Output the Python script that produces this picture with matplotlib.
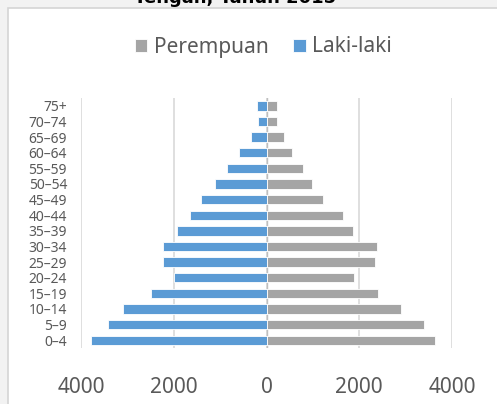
import matplotlib.pyplot as plt
from matplotlib.patches import Rectangle
import numpy as np

# age groups, bottom to top
ages = ['0–4', '5–9', '10–14', '15–19', '20–24', '25–29', '30–34', '35–39',
        '40–44', '45–49', '50–54', '55–59', '60–64', '65–69', '70–74', '75+']
laki_laki = [3790, 3410, 3090, 2480, 1990, 2240, 2240, 1920,
             1650, 1420, 1110, 860, 600, 340, 180, 195]
perempuan = [3640, 3390, 2890, 2410, 1890, 2340, 2380, 1870,
             1650, 1210, 980, 780, 540, 370, 220, 220]
x_ticks = [-4000, -2000, 0, 2000, 4000]
x_tick_labels = ['4000', '2000', '0', '2000', '4000']

plt.rcParams['font.family'] = ['Noto Sans', 'DejaVu Sans']

blue = '#5B9BD5'
grey = '#A5A5A5'
text_col = '#595959'

fig = plt.figure(figsize=(4.97, 4.04), dpi=100)
fig.patch.set_facecolor('#f2f2f2')

# chart frame (right and bottom edges run off the picture)
frame = Rectangle((8 / 497, -0.05), 1.1, 1 - 8 / 404 + 0.05,
                  transform=fig.transFigure, facecolor='white',
                  edgecolor='#d4d4d4', linewidth=1.2, zorder=-10)
fig.patches.append(frame)

# title, mostly cut off at the top
fig.text(0.473, 1 - 3 / 404, 'Tengah, Tahun 2015', ha='center', va='baseline',
         fontsize=13, fontweight='bold', family='DejaVu Sans', color='black')

ax = fig.add_axes([81 / 497, 56 / 404, 371 / 497, 250 / 404])
ax.set_facecolor('none')
ax.set_zorder(2)

y = np.arange(len(ages))
b_l = ax.barh(y, -np.array(laki_laki), height=0.6, color=blue,
              edgecolor='white', linewidth=0.6, zorder=3)
b_p = ax.barh(y, perempuan, height=0.6, color=grey,
              edgecolor='white', linewidth=0.6, zorder=3)

ax.set_xlim(-4000, 4000)
ax.set_ylim(-0.5, 15.5)
ax.set_xticks(x_ticks)
ax.set_xticklabels(x_tick_labels)
ax.set_yticks(y)
ax.set_yticklabels(ages)
ax.grid(axis='x', color='#d9d9d9', linewidth=1.2, zorder=0)
ax.axvline(0, color='#bfbfbf', linewidth=1, zorder=2)
for s in ax.spines.values():
    s.set_visible(False)
ax.tick_params(axis='x', length=0, labelsize=15, labelcolor=text_col, pad=21)
ax.tick_params(axis='y', length=0, labelsize=10, labelcolor=text_col, pad=10)

fig.legend([b_p, b_l], ['Perempuan', 'Laki-laki'], loc='center',
           bbox_to_anchor=(0.53, 1 - 47 / 404), ncol=2, frameon=False,
           fontsize=15, labelcolor=text_col, handlelength=0.6, handleheight=0.6,
           handletextpad=0.3, columnspacing=1.2)

fig.savefig('out.png', dpi=100)
